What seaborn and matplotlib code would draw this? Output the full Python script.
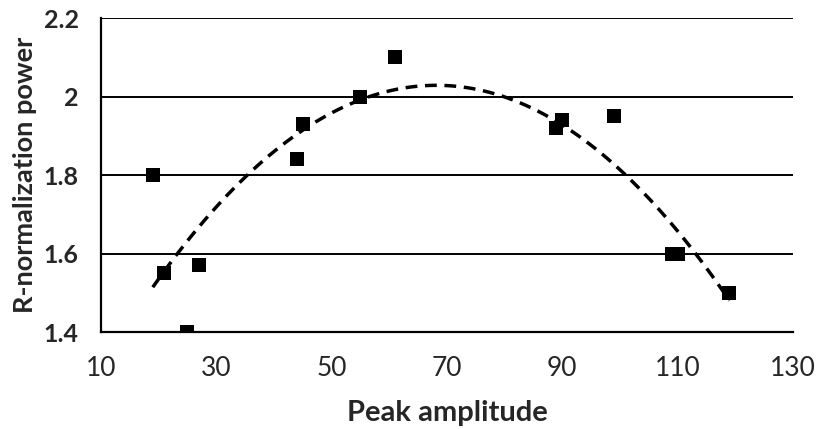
import numpy as np
import pandas as pd
import matplotlib
matplotlib.use("Agg")
import matplotlib.pyplot as plt
import seaborn as sns

# values
peak_amplitude = [19, 21, 25, 27, 44, 45, 55, 61, 89, 90, 99, 109, 110, 119]
r_norm_power = [1.80, 1.55, 1.40, 1.57, 1.84, 1.93, 2.00, 2.10, 1.92, 1.94, 1.95, 1.60, 1.60, 1.50]
x_ticks = [10, 30, 50, 70, 90, 110, 130]
y_ticks = [1.4, 1.6, 1.8, 2.0, 2.2]
y_tick_labels = ["1.4", "1.6", "1.8", "2", "2.2"]

df = pd.DataFrame({"Peak amplitude": peak_amplitude, "R-normalization power": r_norm_power})

sns.set_style("white")
plt.rcParams["font.family"] = ["Lato", "DejaVu Sans"]

fig = plt.figure(figsize=(8.2, 4.29), dpi=100)
ax = fig.add_axes([0.123, 0.226, 0.844, 0.732])

# horizontal gridlines
for y in y_ticks[1:]:
    ax.axhline(y, color="black", lw=1.4, zorder=0)

# quadratic trendline (dashed) over the data range
sns.regplot(data=df, x="Peak amplitude", y="R-normalization power", order=2, ci=None,
            scatter=False, truncate=True, ax=ax,
            line_kws={"color": "black", "lw": 2.5, "ls": (0, (3.4, 2.2))})

sns.scatterplot(data=df, x="Peak amplitude", y="R-normalization power", marker="s",
                s=95, color="black", edgecolor="black", linewidth=0, ax=ax, zorder=3)

ax.set_xlim(10, 130)
ax.set_ylim(1.4, 2.2)
ax.set_xticks(x_ticks)
ax.set_xticklabels([str(t) for t in x_ticks], fontsize=19)
ax.set_yticks(y_ticks)
ax.set_yticklabels(y_tick_labels, fontweight="bold", fontsize=18)
ax.tick_params(axis="x", direction="out", length=6, width=1.6, color="black", pad=11)
ax.tick_params(axis="y", direction="out", length=6, width=1.6, color="black", pad=10)

for side in ["top", "right"]:
    ax.spines[side].set_visible(False)
for side in ["left", "bottom"]:
    ax.spines[side].set_color("black")
    ax.spines[side].set_linewidth(1.6)

ax.set_xlabel("Peak amplitude", fontsize=21, fontweight="bold", labelpad=14)
ax.set_ylabel("R-normalization power", fontsize=19.5, fontweight="bold", labelpad=5)

fig.savefig("out.png", dpi=100)
plt.close(fig)
